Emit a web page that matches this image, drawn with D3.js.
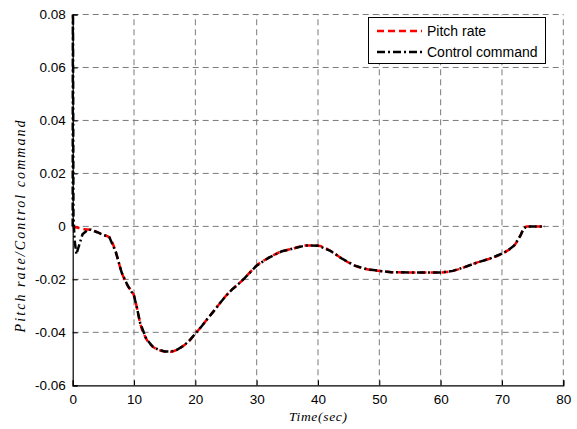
<!DOCTYPE html>
<html>
<head>
<meta charset="utf-8">
<script src="https://cdn.jsdelivr.net/npm/d3@7"></script>
<style>
  body { margin: 0; background: #fff; }
  svg { display: block; }
</style>
</head>
<body>
<script>
//data
var time = [0, 0.5, 1, 2, 3, 4, 5, 6, 7, 8, 9, 10, 10.5, 11, 12, 13, 14, 15, 16, 17, 18, 19, 20, 21, 22, 23, 24, 25, 26, 27, 28, 30, 32, 34, 36, 38, 40, 42, 44, 46, 48, 50, 52, 55, 58, 60, 62, 64, 66, 68, 70, 71, 72, 73, 73.5, 74, 75, 76, 77];
var pitch = [0, -0.0003, -0.0006, -0.0011, -0.0013, -0.0022, -0.0032, -0.0042, -0.0095, -0.0175, -0.0225, -0.0262, -0.031, -0.0365, -0.0425, -0.0453, -0.0466, -0.0472, -0.0473, -0.0466, -0.0452, -0.0432, -0.0405, -0.0378, -0.0348, -0.032, -0.029, -0.0262, -0.0238, -0.0218, -0.0196, -0.0148, -0.0118, -0.0095, -0.0083, -0.0072, -0.0073, -0.0092, -0.0123, -0.0148, -0.0162, -0.0168, -0.0173, -0.0174, -0.0174, -0.0174, -0.0168, -0.0153, -0.0136, -0.0122, -0.0103, -0.009, -0.0072, -0.0035, -0.001, 0, 0, 0, 0];

//control command: spike and dip at the start, then it follows the pitch rate
var cmdStartTime = [0, 0.03, 0.12, 0.3, 0.6, 1.0, 1.6, 2.5];
var cmdStartValue = [0, 0.1, 0.004, -0.005, -0.0105, -0.0075, -0.003, -0.0012];

var xTicks = [0, 10, 20, 30, 40, 50, 60, 70, 80];
var yTicks = [-0.06, -0.04, -0.02, 0, 0.02, 0.04, 0.06, 0.08];

var pitchData = time.map(function (t, i) { return { t: t, v: pitch[i] }; });
var cmdData = cmdStartTime.map(function (t, i) { return { t: t, v: cmdStartValue[i] }; })
    .concat(pitchData.filter(function (d) { return d.t > 2.5; }));

var width = 577, height = 429;
var margin = { left: 72.7, right: 13.7, top: 14.5, bottom: 43.7 };

var svg = d3.select("body").append("svg")
    .attr("width", width)
    .attr("height", height);

var x = d3.scaleLinear().domain([0, 80]).range([margin.left, width - margin.right]);
var y = d3.scaleLinear().domain([-0.06, 0.08]).range([height - margin.bottom, margin.top]);

//matlab style labels with a plain hyphen
var fmt = function (d) { return d === 0 ? "0" : d3.format(".2f")(d).replace("\u2212", "-"); };

//grid
svg.append("g").selectAll("line")
    .data(xTicks.slice(1))
    .enter().append("line")
    .attr("x1", function (d) { return x(d); })
    .attr("x2", function (d) { return x(d); })
    .attr("y1", y(-0.06))
    .attr("y2", y(0.08))
    .attr("stroke", "#7a7a7a")
    .attr("stroke-dasharray", "6,4");

svg.append("g").selectAll("line")
    .data(yTicks.slice(1))
    .enter().append("line")
    .attr("x1", x(0))
    .attr("x2", x(80))
    .attr("y1", function (d) { return y(d); })
    .attr("y2", function (d) { return y(d); })
    .attr("stroke", "#7a7a7a")
    .attr("stroke-dasharray", "6,4");

//axes
var xAxis = svg.append("g")
    .attr("transform", "translate(0," + y(-0.06) + ")")
    .call(d3.axisBottom(x).tickValues(xTicks).tickSize(-5).tickPadding(9).tickFormat(d3.format("d")));

var yAxis = svg.append("g")
    .attr("transform", "translate(" + x(0) + ",0)")
    .call(d3.axisLeft(y).tickValues(yTicks).tickSize(-5).tickPadding(7).tickFormat(fmt));

[xAxis, yAxis].forEach(function (a) {
    a.select(".domain").attr("stroke", "#000").attr("stroke-width", 1.2);
    a.selectAll(".tick line").attr("stroke", "#000");
    a.selectAll("text")
        .attr("fill", "#000")
        .style("font-family", "'Liberation Sans', Arial, sans-serif")
        .style("font-size", "13.5px");
});

//lines
svg.append("clipPath").attr("id", "plotclip")
    .append("rect")
    .attr("x", x(0) - 2)
    .attr("y", y(0.08))
    .attr("width", x(80) - x(0) + 4)
    .attr("height", y(-0.06) - y(0.08));

var line = d3.line()
    .x(function (d) { return x(d.t); })
    .y(function (d) { return y(d.v); })
    .curve(d3.curveMonotoneX);

var lines = svg.append("g").attr("clip-path", "url(#plotclip)");

lines.append("path")
    .datum(pitchData)
    .attr("d", line)
    .attr("fill", "none")
    .attr("stroke", "#ff0000")
    .attr("stroke-width", 2.5)
    .attr("stroke-dasharray", "7,4");

lines.append("path")
    .datum(cmdData)
    .attr("d", d3.line().x(function (d) { return x(d.t); }).y(function (d) { return y(d.v); }))
    .attr("fill", "none")
    .attr("stroke", "#000")
    .attr("stroke-width", 2.5)
    .attr("stroke-dasharray", "8,3,2,3");

//axis labels
svg.append("text")
    .attr("x", x(40))
    .attr("y", 421)
    .attr("text-anchor", "middle")
    .attr("textLength", 58)
    .attr("lengthAdjust", "spacing")
    .style("font-family", "'Liberation Serif', 'Times New Roman', serif")
    .style("font-style", "italic")
    .style("font-size", "13.5px")
    .text("Time(sec)");

svg.append("text")
    .attr("transform", "translate(25," + y(0) + ") rotate(-90)")
    .attr("text-anchor", "middle")
    .attr("textLength", 212)
    .attr("lengthAdjust", "spacing")
    .style("font-family", "'Liberation Serif', 'Times New Roman', serif")
    .style("font-style", "italic")
    .style("font-size", "14px")
    .text("Pitch rate/Control command");

//legend
var legend = svg.append("g");
legend.append("rect")
    .attr("x", 368.5)
    .attr("y", 17.5)
    .attr("width", 177)
    .attr("height", 46)
    .attr("fill", "#fff")
    .attr("stroke", "#000");

var legendItems = [
    { label: "Pitch rate", color: "#ff0000", dash: "7,4" },
    { label: "Control command", color: "#000", dash: "8,3,2,3" }
];

legendItems.forEach(function (d, i) {
    var ly = 31 + i * 21;
    legend.append("line")
        .attr("x1", 377).attr("x2", 422)
        .attr("y1", ly).attr("y2", ly)
        .attr("stroke", d.color)
        .attr("stroke-width", 2.5)
        .attr("stroke-dasharray", d.dash);
    legend.append("text")
        .attr("x", 427)
        .attr("y", ly)
        .attr("dy", "0.35em")
        .style("font-family", "'Liberation Sans', Arial, sans-serif")
        .style("font-size", "14px")
        .text(d.label);
});
</script>
</body>
</html>
